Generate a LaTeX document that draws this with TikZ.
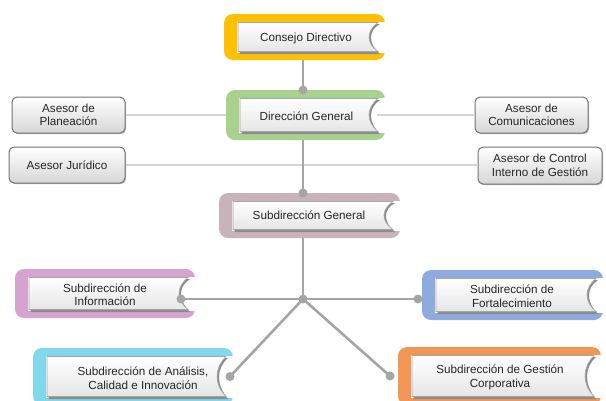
\documentclass[tikz,border=0pt]{standalone}
\usepackage{fontspec}
\setmainfont{Liberation Sans}
\usetikzlibrary{calc,shadows}
\definecolor{cYellow}{HTML}{FFC000}
\definecolor{cGreen}{HTML}{A9D18E}
\definecolor{cMauve}{HTML}{C9B3BB}
\definecolor{cPink}{HTML}{D6A3CF}
\definecolor{cBlue}{HTML}{8FAADC}
\definecolor{cCyan}{HTML}{80D8EA}
\definecolor{cOrange}{HTML}{F29656}
\definecolor{lgray}{HTML}{A5A5A5}
\tikzset{
  x=1pt, y=-1pt,
  conn/.style={draw=lgray, line width=2.6pt},
  advline/.style={draw=black!17, line width=1.3pt},
  dotc/.style={fill=lgray},
  lbl/.style={font=\fontsize{11.7}{13.5}\selectfont, text=black!85, align=center, inner sep=0pt},
  framenode/.style={inner sep=0pt, outer sep=0pt},
  advbox/.style={lbl, draw=black!55, line width=1pt, rounded corners=5pt,
    top color=white, bottom color=black!16,
    drop shadow={shadow xshift=1pt, shadow yshift=-1.2pt, fill=black!45, opacity=0.6}}
}
% name, x1, y1, x2, y2, colour, text x, text y, text
\newcommand\orgframe[9]{%
  \fill[#6, rounded corners=9pt] (#2,#3) rectangle (#4,#5);
  \fill[white] ({#2+13},{#3+7.5}) rectangle ({#4+2},{#5-7.5});
  \fill[black!45] ({#2+15.5},{#3+10}) -- ({#4-5},{#3+10})
     .. controls ({#4-17},{#3+(#5-#3)*0.36}) and ({#4-17},{#5-(#5-#3)*0.36}) .. ({#4-5},{#5-6})
     -- ({#2+15.5},{#5-6}) -- cycle;
  \path[top color=white, bottom color=black!10, draw=black!35, line width=0.6pt]
     ({#2+14},{#3+8.5}) -- ({#4-7},{#3+8.5})
     .. controls ({#4-19},{#3+(#5-#3)*0.36}) and ({#4-19},{#5-(#5-#3)*0.36}) .. ({#4-7},{#5-8.5})
     -- ({#2+14},{#5-8.5}) -- cycle;
  \node[framenode, minimum width={#4-#2}, minimum height={#5-#3}] (#1) at ({(#2+#4)/2},{(#3+#5)/2}) {};
  \node[lbl] (#1-t) at (#7,#8) {#9};
}
\begin{document}
\begin{tikzpicture}
\useasboundingbox (0,0) rectangle (606,400);
\clip (0,0) rectangle (606,400);

% frames
\orgframe{cd}{224}{14}{385}{60}{cYellow}{306}{38}{Consejo Directivo}
\orgframe{dg}{226}{90}{385}{140}{cGreen}{306.5}{116.5}{Dirección General}
\orgframe{sg}{219}{193}{400}{238}{cMauve}{309}{215}{Subdirección General}
\orgframe{si}{15}{269}{195}{318}{cPink}{105}{294.5}{Subdirección de\\Información}
\orgframe{sf}{422}{270}{603}{320}{cBlue}{512}{296}{Subdirección de\\Fortalecimiento}
\orgframe{sa}{33}{348}{233}{405}{cCyan}{143}{378}{Subdirección de Análisis,\\Calidad e Innovación}
\orgframe{sgc}{398}{347}{601}{405}{cOrange}{500}{377.5}{Subdirección de Gestión\\Corporativa}

% advisors
\node[advbox, minimum width=113pt, minimum height=36pt] (ap) at (68.5,115) {Asesor de\\Planeación};
\node[advbox, minimum width=116pt, minimum height=36pt] (aj) at (67,165) {Asesor Jurídico};
\node[advbox, minimum width=113pt, minimum height=36pt] (ac) at (531.5,115) {Asesor de\\Comunicaciones};
\node[advbox, minimum width=124pt, minimum height=37pt] (acig) at (540,165.5) {Asesor de Control\\Interno de Gestión};

% advisor connectors
\draw[advline] (ap.east) -- (ap.east -| dg.west);
\draw[advline] (ac.west) -- ([xshift=-8pt]ac.west -| dg.east);
\draw[advline] (aj.east) -- (aj.east -| acig.west);

% trunk
\coordinate (jn) at (303,299);
\coordinate (siD) at ([xshift=-14pt]si.east |- jn);
\coordinate (sfD) at ([xshift=-4pt]sf.west |- jn);
\coordinate (saD) at ([xshift=-3pt]sa.east);
\coordinate (sgcD) at ([xshift=-8pt]sgc.west);
\draw[conn] (cd.south -| jn) -- (dg.north -| jn);
\draw[conn] (dg.south -| jn) -- (sg.north -| jn);
\draw[conn] (sg.south -| jn) -- (jn);
\draw[conn] (siD) -- (sfD);
\draw[conn] (jn) -- (saD);
\draw[conn] (jn) -- (sgcD);

% dots
\fill[dotc] (dg.north -| jn) circle (4.5);
\fill[dotc] (sg.north -| jn) circle (4.5);
\fill[dotc] (jn) circle (4.5);
\fill[dotc] (siD) circle (4.5);
\fill[dotc] (sfD) circle (4.5);
\fill[dotc] (saD) circle (4.5);
\fill[dotc] (sgcD) circle (4.5);
\end{tikzpicture}
\end{document}
